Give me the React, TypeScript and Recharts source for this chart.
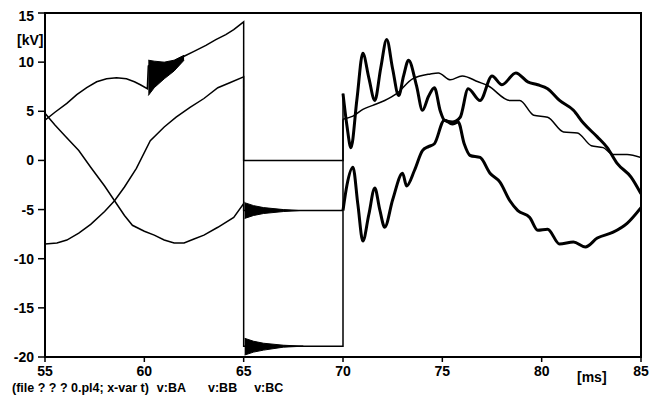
import React from "react";
import {
  ComposedChart,
  Line,
  Area,
  XAxis,
  YAxis,
  ReferenceArea,
} from "recharts";

// [time ms, voltage kV] points
const vBA: [number, number][] = [
  [55, 4.1], [55.5, 4.9], [56.1, 5.8], [56.6, 6.7], [57.1, 7.4], [57.6, 8.0],
  [58.1, 8.3], [58.6, 8.4], [59.1, 8.3], [59.5, 8.0], [59.8, 7.7], [60.15, 7.3],
  [60.2, 9.6], [60.5, 9.9], [61, 9.9], [61.5, 10.1], [62, 10.6], [62.5, 11.1],
  [63.1, 11.7], [63.6, 12.3], [64.1, 12.8], [64.5, 13.3], [65, 14.1],
  [65, -18.9], [70, -18.9], [70, 6.8],
];
const vBAafter: [number, number][] = [
  [70, 6.8], [70.2, 3.5], [70.4, 1.3], [70.7, 6.2], [71.0, 10.9], [71.3, 8.4],
  [71.6, 6.1], [71.9, 9.4], [72.2, 12.3], [72.5, 9.3], [72.8, 6.6], [73.05, 8.6],
  [73.3, 10.2], [73.7, 7.6], [74.0, 5.1], [74.3, 6.5], [74.6, 7.4], [74.9, 5.0],
  [75.1, 4.1], [75.5, 3.9], [75.9, 4.4], [76.3, 7.3], [76.9, 6.1], [77.5, 8.6],
  [78.0, 7.7], [78.7, 8.9], [79.3, 8.0], [79.8, 7.7], [80.3, 7.3], [80.9, 6.1],
  [81.6, 5.1], [82.1, 3.8], [82.8, 2.4], [83.3, 1.3], [83.8, -0.3], [84.5, -1.7],
  [85, -3.4],
];
const vBB: [number, number][] = [
  [55, 4.8], [55.5, 3.6], [56, 2.5], [56.7, 1.0], [57.3, -0.7], [58, -2.6],
  [58.5, -4.1], [59, -5.6], [59.4, -6.6], [60, -7.2], [60.5, -7.6], [61, -8.1],
  [61.5, -8.4], [62, -8.4], [62.5, -8.0], [63, -7.6], [63.7, -6.8], [64.5, -5.8],
  [65, -4.4], [65, -5.1], [70, -5.1],
];
const vBBafter: [number, number][] = [
  [70, -5.1], [70.2, -2.5], [70.5, -0.7], [70.75, -4.5], [71.0, -8.2], [71.3, -5.5],
  [71.6, -2.8], [71.85, -5.0], [72.1, -6.8], [72.5, -4.0], [73.0, -1.3], [73.2, -2.6],
  [73.6, -1.0], [74.0, 1.0], [74.3, 1.4], [74.6, 1.7], [75.1, 4.1], [75.5, 3.7],
  [75.8, 3.9], [76.1, 1.7], [76.4, 0.5], [76.9, 0.3], [77.4, -1.3], [77.9, -2.2],
  [78.4, -4.1], [78.8, -5.1], [79.4, -5.8], [79.8, -7.1], [80.3, -7.0], [80.9, -8.5],
  [81.6, -8.3], [82.2, -8.8], [82.8, -7.9], [83.6, -7.3], [84.3, -6.4], [85, -4.8],
];
const vBC: [number, number][] = [
  [55, -8.5], [55.6, -8.4], [56.1, -8.1], [56.7, -7.4], [57.3, -6.5], [58, -5.2],
  [58.5, -4.1], [59, -2.7], [59.6, -0.8], [60.3, 2.0], [61, 3.4], [61.6, 4.4],
  [62.3, 5.4], [63, 6.3], [63.7, 7.4], [64.3, 7.9], [65, 8.5],
  [65, 0], [70, 0], [70, 4.2],
];
const vBCafter: [number, number][] = [
  [70, 4.2], [70.5, 4.5], [71, 5.2], [71.5, 5.6], [72.1, 6.1],
  [72.7, 6.8], [73.5, 8.3], [74.4, 8.8], [74.8, 8.9], [75.4, 8.2], [76.0, 8.6],
  [76.8, 8.0], [77.3, 7.6], [78.4, 6.1], [78.9, 6.1], [79.6, 4.6], [80.3, 4.4],
  [81.1, 2.9], [81.8, 2.8], [82.5, 1.5], [83.1, 1.3], [83.6, 0.6], [84.3, 0.6],
  [85, 0.3],
];

// oscillation envelopes [time, low, high]
const burstBA: [number, number, number][] = [
  [60.2, 6.6, 10.2], [60.5, 7.4, 10.1], [61, 8.3, 10.0], [61.5, 9.1, 10.2], [62, 10.2, 10.7],
];
const burstBB: [number, number, number][] = [
  [65.05, -5.9, -4.3], [65.5, -5.6, -4.6], [66, -5.4, -4.8], [67, -5.2, -5.0], [67.8, -5.1, -5.1],
];
const burstLow: [number, number, number][] = [
  [65.05, -19.8, -18.1], [65.5, -19.5, -18.4], [66, -19.3, -18.6], [67, -19.0, -18.8], [68, -18.9, -18.9],
];

const xTicks = [55, 60, 65, 70, 75, 80, 85];
const yTicks = [-20, -15, -10, -5, 0, 5, 10, 15];
const captionParts = ["(file ? ? ? 0.pl4; x-var t)", "v:BA", "v:BB", "v:BC"];
const captionGaps = [0, 8, 22, 17];

const rows = (pts: [number, number][]) => pts.map(([t, v]) => ({ t, v }));
const bands = (pts: [number, number, number][]) =>
  pts.map(([t, lo, hi]) => ({ t, r: [lo, hi] }));

const font = "'Liberation Sans', Arial, sans-serif";
const tickStyle = { fill: "#000", fontSize: 14, fontWeight: 700, fontFamily: font };

export default function App() {
  return (
    <div style={{ position: "relative", width: 652, height: 394, fontFamily: font }}>
      <ComposedChart width={652} height={394} margin={{ top: 5, right: 19, bottom: 20, left: 0 }}>
        <XAxis
          type="number"
          dataKey="t"
          domain={[55, 85]}
          ticks={xTicks}
          allowDataOverflow
          tick={tickStyle}
          tickSize={5}
          tickMargin={4}
          height={25}
          axisLine={false}
          tickLine={{ stroke: "#000", strokeWidth: 1.5 }}
        />
        <YAxis
          type="number"
          domain={[-20, 15]}
          ticks={yTicks}
          allowDataOverflow
          tick={tickStyle}
          tickSize={7}
          tickMargin={4}
          width={37}
          axisLine={false}
          tickLine={{ stroke: "#000", strokeWidth: 1.5 }}
        />
        <Area data={bands(burstBA)} dataKey="r" type="linear" fill="#000" fillOpacity={1} stroke="#000" strokeWidth={1} isAnimationActive={false} />
        <Area data={bands(burstBB)} dataKey="r" type="linear" fill="#000" fillOpacity={1} stroke="#000" strokeWidth={1} isAnimationActive={false} />
        <Area data={bands(burstLow)} dataKey="r" type="linear" fill="#000" fillOpacity={1} stroke="#000" strokeWidth={1} isAnimationActive={false} />
        <Line data={rows(vBA)} dataKey="v" type="linear" stroke="#000" strokeWidth={1.5} dot={false} isAnimationActive={false} />
        <Line data={rows(vBB)} dataKey="v" type="linear" stroke="#000" strokeWidth={1.5} dot={false} isAnimationActive={false} />
        <Line data={rows(vBC)} dataKey="v" type="linear" stroke="#000" strokeWidth={1.5} dot={false} isAnimationActive={false} />
        <Line data={rows(vBCafter)} dataKey="v" type="monotoneX" stroke="#000" strokeWidth={1.5} dot={false} isAnimationActive={false} />
        <Line data={rows(vBAafter)} dataKey="v" type="monotoneX" stroke="#000" strokeWidth={3} dot={false} isAnimationActive={false} />
        <Line data={rows(vBBafter)} dataKey="v" type="monotoneX" stroke="#000" strokeWidth={3} dot={false} isAnimationActive={false} />
        <ReferenceArea x1={55} x2={85} y1={-20} y2={15} fill="none" stroke="#000" strokeWidth={2} ifOverflow="visible" />
      </ComposedChart>
      <div style={{ position: "absolute", left: 9, top: 24, fontSize: 14, fontWeight: 700 }}>[kV]</div>
      <div style={{ position: "absolute", left: 569, top: 361, fontSize: 14, fontWeight: 700 }}>[ms]</div>
      <div
        style={{
          position: "absolute",
          left: 4,
          top: 373,
          display: "flex",
          fontSize: 12.5,
          fontWeight: 700,
          whiteSpace: "pre",
        }}
      >
        {captionParts.map((s, i) => (
          <span key={s} style={{ marginLeft: captionGaps[i] }}>{s}</span>
        ))}
      </div>
    </div>
  );
}
